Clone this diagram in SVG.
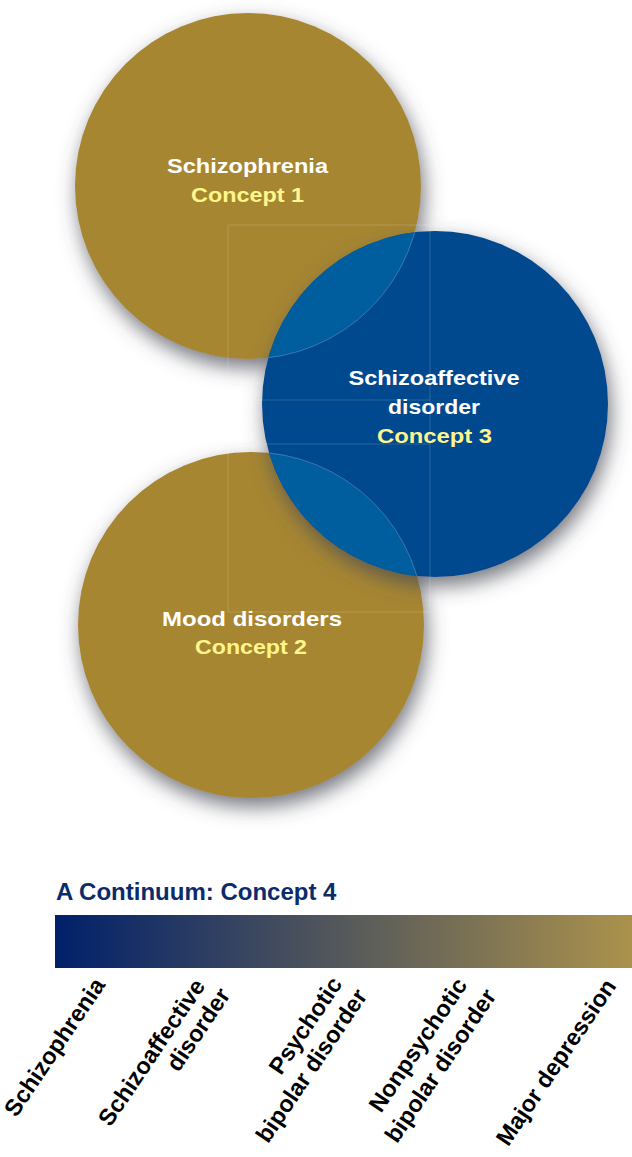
<svg xmlns="http://www.w3.org/2000/svg" width="632" height="1157" viewBox="0 0 632 1157">
  <style>
    .gold { fill: #a78632; }
    .blue { fill: #004a8f; }
    .lens { fill: #005e9e; }
    .seam { stroke: #ffffff; stroke-opacity: 0.16; stroke-width: 1; fill: none; }
    .rim { stroke: #ffffff; stroke-opacity: 0.28; stroke-width: 0.8; fill: none; }
    .name { font-family: "Liberation Sans", Arial, sans-serif; font-weight: bold; font-size: 21px; fill: #ffffff; text-anchor: middle; }
    .concept { font-family: "Liberation Sans", Arial, sans-serif; font-weight: bold; font-size: 21px; fill: #fff68c; text-anchor: middle; }
    .title { font-family: "Liberation Sans", Arial, sans-serif; font-weight: bold; font-size: 24px; fill: #0b2b6c; }
    .axis { font-family: "Liberation Sans", Arial, sans-serif; font-weight: bold; font-size: 23.5px; fill: #000000; text-anchor: end; }
  </style>
  <defs>
    <filter id="shadow" x="-25%" y="-25%" width="150%" height="150%">
      <feGaussianBlur in="SourceAlpha" stdDeviation="10"/>
      <feOffset dx="3" dy="9" result="blur"/>
      <feFlood flood-color="#474b55" flood-opacity="0.75"/>
      <feComposite in2="blur" operator="in"/>
      <feMerge>
        <feMergeNode/>
        <feMergeNode in="SourceGraphic"/>
      </feMerge>
    </filter>
    <clipPath id="clip-blue">
      <circle cx="435" cy="404" r="173"/>
    </clipPath>
    <linearGradient id="continuum" x1="0" y1="0" x2="1" y2="0">
      <stop offset="0" stop-color="#00206a"/>
      <stop offset="1" stop-color="#ab924c"/>
    </linearGradient>
  </defs>

  <!-- Concept 1 -->
  <g id="node-schizophrenia">
    <circle class="gold" cx="248" cy="186" r="173" filter="url(#shadow)"/>
  </g>

  <!-- Concept 2 -->
  <g id="node-mood-disorders">
    <circle class="gold" cx="251" cy="625" r="173" filter="url(#shadow)"/>
  </g>

  <!-- Concept 3 -->
  <g id="node-schizoaffective">
    <circle class="blue" cx="435" cy="404" r="173" filter="url(#shadow)"/>
  </g>

  <!-- Overlap lenses between the blue circle and both gold circles -->
  <g id="overlaps" clip-path="url(#clip-blue)">
    <circle class="lens" cx="248" cy="186" r="173"/>
    <circle class="lens" cx="251" cy="625" r="173"/>
    <circle class="rim" cx="248" cy="186" r="173"/>
    <circle class="rim" cx="251" cy="625" r="173"/>
  </g>

  <!-- Faint tile seams across the circle cluster -->
  <g id="seams">
    <line class="seam" x1="228" y1="225" x2="430" y2="225"/>
    <line class="seam" x1="228" y1="612" x2="430" y2="612"/>
    <line class="seam" x1="228" y1="400" x2="430" y2="400"/>
    <line class="seam" x1="228" y1="444" x2="430" y2="444"/>
    <line class="seam" x1="228" y1="225" x2="228" y2="612"/>
    <line class="seam" x1="430" y1="225" x2="430" y2="612"/>
  </g>

  <g id="connectors"/>

  <!-- Circle labels -->
  <g id="labels">
    <text class="name" x="247.5" y="173" textLength="161" lengthAdjust="spacingAndGlyphs">Schizophrenia</text>
    <text class="concept" x="247.5" y="202" textLength="113" lengthAdjust="spacingAndGlyphs">Concept 1</text>
    <text class="name" x="434" y="385" textLength="171" lengthAdjust="spacingAndGlyphs">Schizoaffective</text>
    <text class="name" x="434" y="414" textLength="92" lengthAdjust="spacingAndGlyphs">disorder</text>
    <text class="concept" x="434.5" y="443" textLength="115" lengthAdjust="spacingAndGlyphs">Concept 3</text>
    <text class="name" x="252" y="626" textLength="180" lengthAdjust="spacingAndGlyphs">Mood disorders</text>
    <text class="concept" x="251" y="654" textLength="112" lengthAdjust="spacingAndGlyphs">Concept 2</text>
  </g>

  <!-- Concept 4: the continuum scale -->
  <g id="continuum-scale">
    <text class="title" x="56" y="900">A Continuum: Concept 4</text>
    <rect x="55" y="915" width="577" height="53" fill="url(#continuum)"/>
    <text class="axis" transform="translate(106,985) rotate(-56)">Schizophrenia</text>
    <text class="axis" transform="translate(206,986) rotate(-56)">Schizoaffective</text>
    <text class="axis" transform="translate(231,995) rotate(-56)">disorder</text>
    <text class="axis" transform="translate(343,984) rotate(-56)">Psychotic</text>
    <text class="axis" transform="translate(368,996) rotate(-56)">bipolar disorder</text>
    <text class="axis" transform="translate(468,985) rotate(-56)">Nonpsychotic</text>
    <text class="axis" transform="translate(497,996) rotate(-56)">bipolar disorder</text>
    <text class="axis" transform="translate(617,986) rotate(-56)">Major depression</text>
  </g>
</svg>
